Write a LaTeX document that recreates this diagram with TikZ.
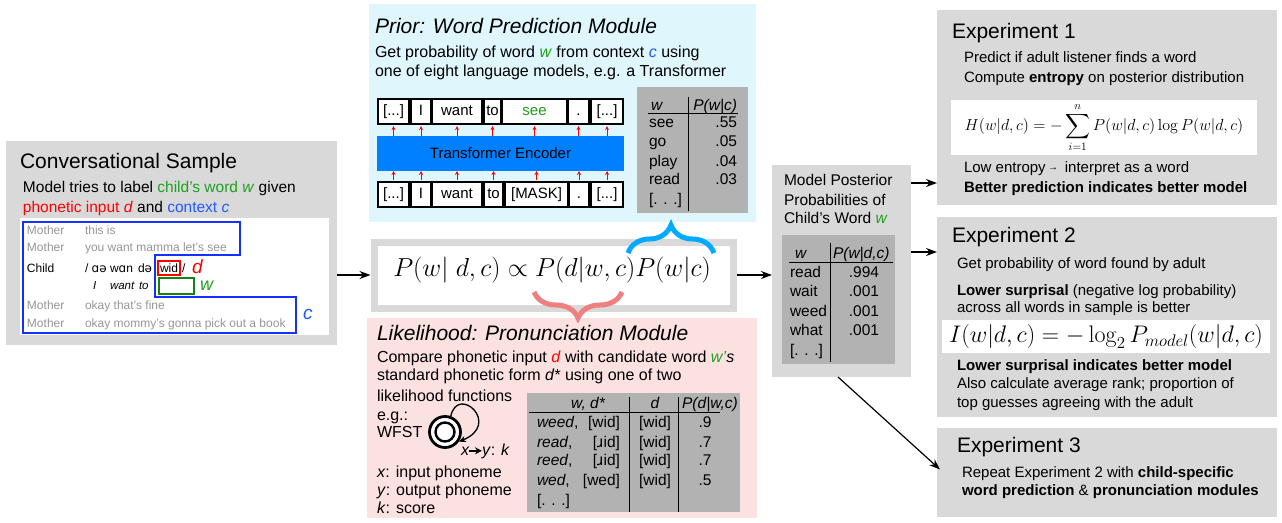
\documentclass[tikz,border=0pt]{standalone}
\usepackage{fix-cm}
\usepackage{exscale}
\usepackage[no-math]{fontspec}
\setmainfont{Liberation Sans}
\newfontfamily\ipafont{DejaVu Sans}
\usetikzlibrary{arrows.meta,decorations.pathreplacing,calc}
\definecolor{boxgray}{RGB}{217,217,217}
\definecolor{tabgray}{RGB}{178,178,178}
\definecolor{priorbg}{RGB}{223,246,252}
\definecolor{likebg}{RGB}{252,225,225}
\definecolor{encblue}{RGB}{0,128,255}
\definecolor{braceblue}{RGB}{0,170,255}
\definecolor{bracered}{RGB}{238,128,128}
\definecolor{cgreen}{RGB}{30,160,30}
\definecolor{cblue}{RGB}{30,90,255}
\definecolor{cred}{RGB}{255,0,0}
\definecolor{boxblue}{RGB}{20,50,255}
\definecolor{boxgreen}{RGB}{20,130,20}
\definecolor{txgray}{RGB}{150,150,150}
\newcommand\fsz[1]{\fontsize{#1}{#1}\selectfont}
\newcommand\ipa[1]{{\ipafont #1}}
\begin{document}
\begin{tikzpicture}[x=1pt,y=-1pt,
  t/.style={anchor=base west, inner sep=0pt, outer sep=0pt},
  te/.style={anchor=base east, inner sep=0pt, outer sep=0pt},
  tc/.style={anchor=base, inner sep=0pt, outer sep=0pt},
  panel/.style={anchor=north west, inner sep=0pt, outer sep=0pt, rectangle},
  arr/.style={-{Stealth[length=11pt,width=8pt]}, line width=1.2pt},
  redarr/.style={-{Stealth[length=4pt,width=4pt]}, line width=0.8pt, draw=red},
  tok/.style={draw=black, line width=2.2pt, fill=white, inner sep=0pt, minimum height=25pt, text height=11pt, text depth=3pt, font=\fsz{15}},
  rule/.style={line width=0.8pt},
]
\useasboundingbox (0,0) rectangle (1282,522);

% ---------- panels
\node[panel, fill=boxgray, minimum width=331pt, minimum height=204pt] (conv) at (6,141) {};
\node[panel, fill=white, minimum width=309pt, minimum height=117pt] (trans) at (20,218) {};
\node[panel, fill=priorbg, minimum width=387pt, minimum height=218pt] (prior) at (369,4) {};
\node[panel, fill=likebg, minimum width=390pt, minimum height=200pt] (like) at (367,318) {};
\node[panel, fill=boxgray, minimum width=139pt, minimum height=212pt] (post) at (772,165) {};
\node[panel, fill=boxgray, minimum width=340pt, minimum height=195pt] (exp1) at (937,10) {};
\node[panel, fill=boxgray, minimum width=340pt, minimum height=200pt] (exp2) at (937,217) {};
\node[panel, fill=boxgray, minimum width=340pt, minimum height=89pt] (exp3) at (937,428) {};
\node[panel, fill=white, draw=boxgray, line width=7pt, outer sep=3.5pt, minimum width=359pt, minimum height=66pt] (eq) at (370.5,238.5) {};

% ---------- conversational sample
\node[t] (convtitle) at (20,168) {\fsz{21}Conversational Sample};
\node[t] (convl1) at (23,192) {\fsz{15.5}Model tries to label {\color{cgreen}child’s word \textit{w}} given};
\node[t] (convl2) at (23,212) {\fsz{15.5}{\color{cred}phonetic input \textit{d}} and {\color{cblue}context \textit{c}}};
\begin{scope}[every node/.style={t, font=\fsz{12}, text=txgray}]
  \node (s1) at (27,234) {Mother};  \node (u1) at (85,234) {this is};
  \node (s2) at (27,251) {Mother};  \node (u2) at (85,251) {you want mamma let’s see};
  \node (s5) at (27,309) {Mother};  \node (u5) at (85,309) {okay that’s fine};
  \node (s6) at (27,327) {Mother};  \node (u6) at (85,327) {okay mommy’s gonna pick out a book};
\end{scope}
\begin{scope}[every node/.style={t, font=\fsz{12}}]
  \node (s3) at (27,272) {Child};
  \node (p1) at (85,272) {/ \ipa{ɑə}};
  \node (p2) at (110,272) {w\ipa{ɑ}n};
  \node (p3) at (138,272) {d\ipa{ə}};
  \node (p4) at (160,272) {wid};
  \node (p5) at (182,272) {/};
\end{scope}
\begin{scope}[every node/.style={t, font=\fsz{11.5}}]
  \node (g1) at (93,289) {\itshape I};
  \node (g2) at (110,289) {\itshape want};
  \node (g3) at (139,289) {\itshape to};
\end{scope}
\draw[boxblue, line width=2.2pt] (23,222) -- (240,222) -- (240,255) -- (155,255) -- (155,297) -- (296,297) -- (296,333) -- (23,333) -- cycle;
\node[draw=red, line width=2pt, panel, minimum width=22pt, minimum height=14pt] (dbox) at (158,261) {};
\node[draw=boxgreen, line width=2pt, panel, minimum width=35pt, minimum height=16pt] (wbox) at (159,278) {};
\node[t, text=cred] (dlab) at (192,273) {\fsz{19}\textit{d}};
\node[t, text=cgreen] (wlab) at (200,290) {\fsz{18}\textit{w}};
\node[t, text=cblue] (clab) at (303,319) {\fsz{19}\textit{c}};

% ---------- prior module
\node[t] (priortitle) at (375,33) {\fsz{21}\itshape Prior: Word Prediction Module};
\node[t] (priorl1) at (375,57) {\fsz{16}Get probability of word {\color{cgreen}\textit{w}} from context {\color{cblue}\textit{c}} using};
\node[t] (priorl2) at (375,76) {\fsz{16}one of eight language models, e.g. a Transformer};
\node[tok, minimum width=31pt] (a1) at (393.5,111.5) {[...]};
\node[tok, minimum width=20pt] (a2) at (421,111.5) {I};
\node[tok, minimum width=50pt] (a3) at (457,111.5) {want};
\node[tok, minimum width=17pt] (a4) at (492.5,111.5) {to};
\node[tok, minimum width=65pt, text=cgreen] (a5) at (534.5,111.5) {see};
\node[tok, minimum width=21pt] (a6) at (578.5,111.5) {.};
\node[tok, minimum width=32pt] (a7) at (607,111.5) {[...]};
\node[tok, minimum width=31pt] (b1) at (393.5,194.5) {[...]};
\node[tok, minimum width=20pt] (b2) at (421,194.5) {I};
\node[tok, minimum width=50pt] (b3) at (457,194.5) {want};
\node[tok, minimum width=19pt] (b4) at (493.5,194.5) {to};
\node[tok, minimum width=63pt] (b5) at (536.5,194.5) {[MASK]};
\node[tok, minimum width=20pt] (b6) at (579,194.5) {.};
\node[tok, minimum width=32pt] (b7) at (607,194.5) {[...]};
\node[panel, fill=encblue, minimum width=247pt, minimum height=35pt] (enc) at (377,136) {};
\node[font=\fsz{15}, inner sep=0pt] (enctext) at (enc.center) {Transformer Encoder};
\foreach \i in {1,...,7} {
  \draw[redarr] (a\i |- enc.north) -- ([yshift=-1pt]a\i.south);
  \draw[redarr] ([yshift=1pt]b\i.north) -- (b\i |- enc.south);
}
% prior table
\node[panel, fill=tabgray, minimum width=111pt, minimum height=126pt] (ptab) at (637,87) {};
\begin{scope}[every node/.append style={font=\fsz{15.5}}]
  \node[t] (ph1) at (651,110) {\itshape w};
  \node[te] (ph2) at (737,110) {\itshape P(w|c)};
  \node[t] (pr1) at (649,127) {see};   \node[te] (pv1) at (737,127) {.55};
  \node[t] (pr2) at (649,146) {go};    \node[te] (pv2) at (737,146) {.05};
  \node[t] (pr3) at (649,166) {play};  \node[te] (pv3) at (737,166) {.04};
  \node[t] (pr4) at (649,184) {read};  \node[te] (pv4) at (737,184) {.03};
  \node[t] (pr5) at (649,204) {[. . .]};
\end{scope}
\draw[rule] (648,113) -- (738,113);
\draw[rule] (688,97) -- (688,211);

% ---------- equation
\node[tc] (eqn) at (552,276) {\fsz{26}$P(w|\ d,c)\propto P(d|w,c)P(w|c)$};
\draw[decorate, decoration={brace, amplitude=28pt}, draw=braceblue, line width=5pt] (628,253) -- (714,253);
\draw[decorate, decoration={brace, amplitude=26pt}, draw=bracered, line width=5pt] (622,292) -- (534,292);

% ---------- likelihood module
\node[t] (liketitle) at (377,340) {\fsz{21}\itshape Likelihood: Pronunciation Module};
\begin{scope}[every node/.append style={font=\fsz{16}}]
  \node[t] (ll1) at (377,362) {Compare phonetic input {\color{cred}\textit{d}} with candidate word {\color{cgreen}\textit{w’}}\textit{s}};
  \node[t] (ll2) at (377,380) {standard phonetic form \textit{d*} using one of two};
  \node[t] (ll3) at (377,401) {likelihood functions};
  \node[t] (ll4) at (377,420) {e.g.:};
  \node[t] (ll5) at (377,437) {WFST};
  \node[t] (ll6) at (377,477) {\textit{x}: input phoneme};
  \node[t] (ll7) at (377,495) {\textit{y}: output phoneme};
  \node[t] (ll8) at (377,513) {\textit{k}: score};
  \node[t] (lx) at (461,455) {\textit{x}};
  \node[t] (ly) at (482,455) {\textit{y}: \textit{k}};
\end{scope}
\node[circle, draw, line width=2.8pt, fill=white, minimum size=31pt, inner sep=0pt] (st) at (445,432) {};
\node[circle, draw, line width=2.4pt, fill=white, minimum size=19pt, inner sep=0pt] (sti) at (st.center) {};
\draw[line width=1.3pt, -{Stealth[length=7pt,width=6pt]}] (st.70) .. controls (458,384) and (502,424) .. (st.-35);
\draw[line width=1.6pt, -{Stealth[length=7pt,width=7pt]}] (lx.east) -- (lx.east -| ly.west);
% likelihood table
\node[panel, fill=tabgray, minimum width=213pt, minimum height=119pt] (ltab) at (527,393) {};
\begin{scope}[every node/.append style={font=\fsz{15.5}}]
  \node[tc] (lh1) at (588,408) {\itshape w, d*};
  \node[tc] (lh2) at (655,408) {\itshape d};
  \node[tc] (lh3) at (710,408) {\itshape P(d|w,c)};
  \node[t] (lw1) at (537,427) {\textit{weed},}; \node[te] (lp1) at (620,427) {[wid]}; \node[tc] (ld1) at (655,427) {[wid]}; \node[tc] (lv1) at (705,427) {.9};
  \node[t] (lw2) at (537,447) {\textit{read},}; \node[te] (lp2) at (620,447) {[\ipa{ɹ}id]}; \node[tc] (ld2) at (655,447) {[wid]}; \node[tc] (lv2) at (705,447) {.7};
  \node[t] (lw3) at (537,465) {\textit{reed},}; \node[te] (lp3) at (620,465) {[\ipa{ɹ}id]}; \node[tc] (ld3) at (655,465) {[wid]}; \node[tc] (lv3) at (705,465) {.7};
  \node[t] (lw4) at (537,485) {\textit{wed},};  \node[te] (lp4) at (620,485) {[wed]}; \node[tc] (ld4) at (655,485) {[wid]}; \node[tc] (lv4) at (705,485) {.5};
  \node[t] (lw5) at (537,505) {[. . .]};
\end{scope}
\draw[rule] (529,412) -- (720,412);
\draw[rule] (629,397) -- (629,512);
\draw[rule] (678,397) -- (678,512);

% ---------- posterior
\begin{scope}[every node/.append style={font=\fsz{15.5}}]
  \node[t] (pol1) at (784,185) {Model Posterior};
  \node[t] (pol2) at (784,205) {Probabilities of};
  \node[t] (pol3) at (784,223) {Child’s Word {\color{cgreen}\textit{w}}};
\end{scope}
\node[panel, fill=tabgray, minimum width=113pt, minimum height=129pt] (potab) at (782,235) {};
\begin{scope}[every node/.append style={font=\fsz{15.5}}]
  \node[t] (poh1) at (795,258) {\itshape w};
  \node[t] (poh2) at (833,258) {\itshape P(w|d,c)};
  \node[t] (por1) at (790,277) {read};  \node[tc] (pov1) at (864,277) {.994};
  \node[t] (por2) at (790,296) {wait};  \node[tc] (pov2) at (864,296) {.001};
  \node[t] (por3) at (790,316) {weed};  \node[tc] (pov3) at (864,316) {.001};
  \node[t] (por4) at (790,335) {what};  \node[tc] (pov4) at (864,335) {.001};
  \node[t] (por5) at (790,355) {[. . .]};
\end{scope}
\draw[rule] (789,262) -- (893,262);
\draw[rule] (830,243) -- (830,362);

% ---------- experiment 1
\node[t] (e1t) at (952,38) {\fsz{21}Experiment 1};
\begin{scope}[every node/.append style={font=\fsz{15}}]
  \node[t] (e1a) at (964,62) {Predict if adult listener finds a word};
  \node[t] (e1b) at (964,82) {Compute \textbf{entropy} on posterior distribution};
  \node[t] (e1c) at (964,172) {Low entropy\,{\fsz{10}\raisebox{1.5pt}{→}}\, interpret as a word};
  \node[t] (e1d) at (964,192) {\textbf{Better prediction indicates better model}};
\end{scope}
\node[panel, fill=white, minimum width=306pt, minimum height=55pt] (e1box) at (951,100) {};
\node[inner sep=0pt] (e1f) at (e1box.center) {\fsz{16}$\displaystyle H(w|d,c)=-\sum_{i=1}^{n}P(w|d,c)\log P(w|d,c)$};

% ---------- experiment 2
\node[t] (e2t) at (952,242) {\fsz{21}Experiment 2};
\begin{scope}[every node/.append style={font=\fsz{15}}]
  \node[t] (e2a) at (957,268) {Get probability of word found by adult};
  \node[t] (e2b) at (957,295) {\textbf{Lower surprisal} (negative log probability)};
  \node[t] (e2c) at (957,312) {across all words in sample is better};
  \node[t] (e2d) at (957,370) {\textbf{Lower surprisal indicates better model}};
  \node[t] (e2e) at (957,388) {Also calculate average rank; proportion of};
  \node[t] (e2f) at (957,407) {top guesses agreeing with the adult};
\end{scope}
\node[panel, fill=white, minimum width=328pt, minimum height=33pt] (e2box) at (942,320) {};
\node[inner sep=0pt] (e2form) at (e2box.center) {\fsz{24}$I(w|d,c)=-\log_2 P_{model}(w|d,c)$};

% ---------- experiment 3
\node[t] (e3t) at (957,452) {\fsz{21}Experiment 3};
\begin{scope}[every node/.append style={font=\fsz{15}}]
  \node[t] (e3a) at (962,477) {Repeat Experiment 2 with \textbf{child-specific}};
  \node[t] (e3b) at (962,495) {\textbf{word prediction} \& \textbf{pronunciation modules}};
\end{scope}

% ---------- connectors
\draw[arr] (conv.east |- eq.west) -- (eq.west);
\draw[arr] (eq.east) -- (eq.east -| post.west);
\draw[arr] ([yshift=-18pt]post.north east) coordinate (q1) -- (q1 -| exp1.west);
\draw[arr] ([yshift=-87pt]post.north east) coordinate (q2) -- (q2 -| exp2.west);
\draw[arr] ([xshift=66pt]post.south west) -- ([xshift=3pt,yshift=3pt]exp3.west);
\end{tikzpicture}
\end{document}
